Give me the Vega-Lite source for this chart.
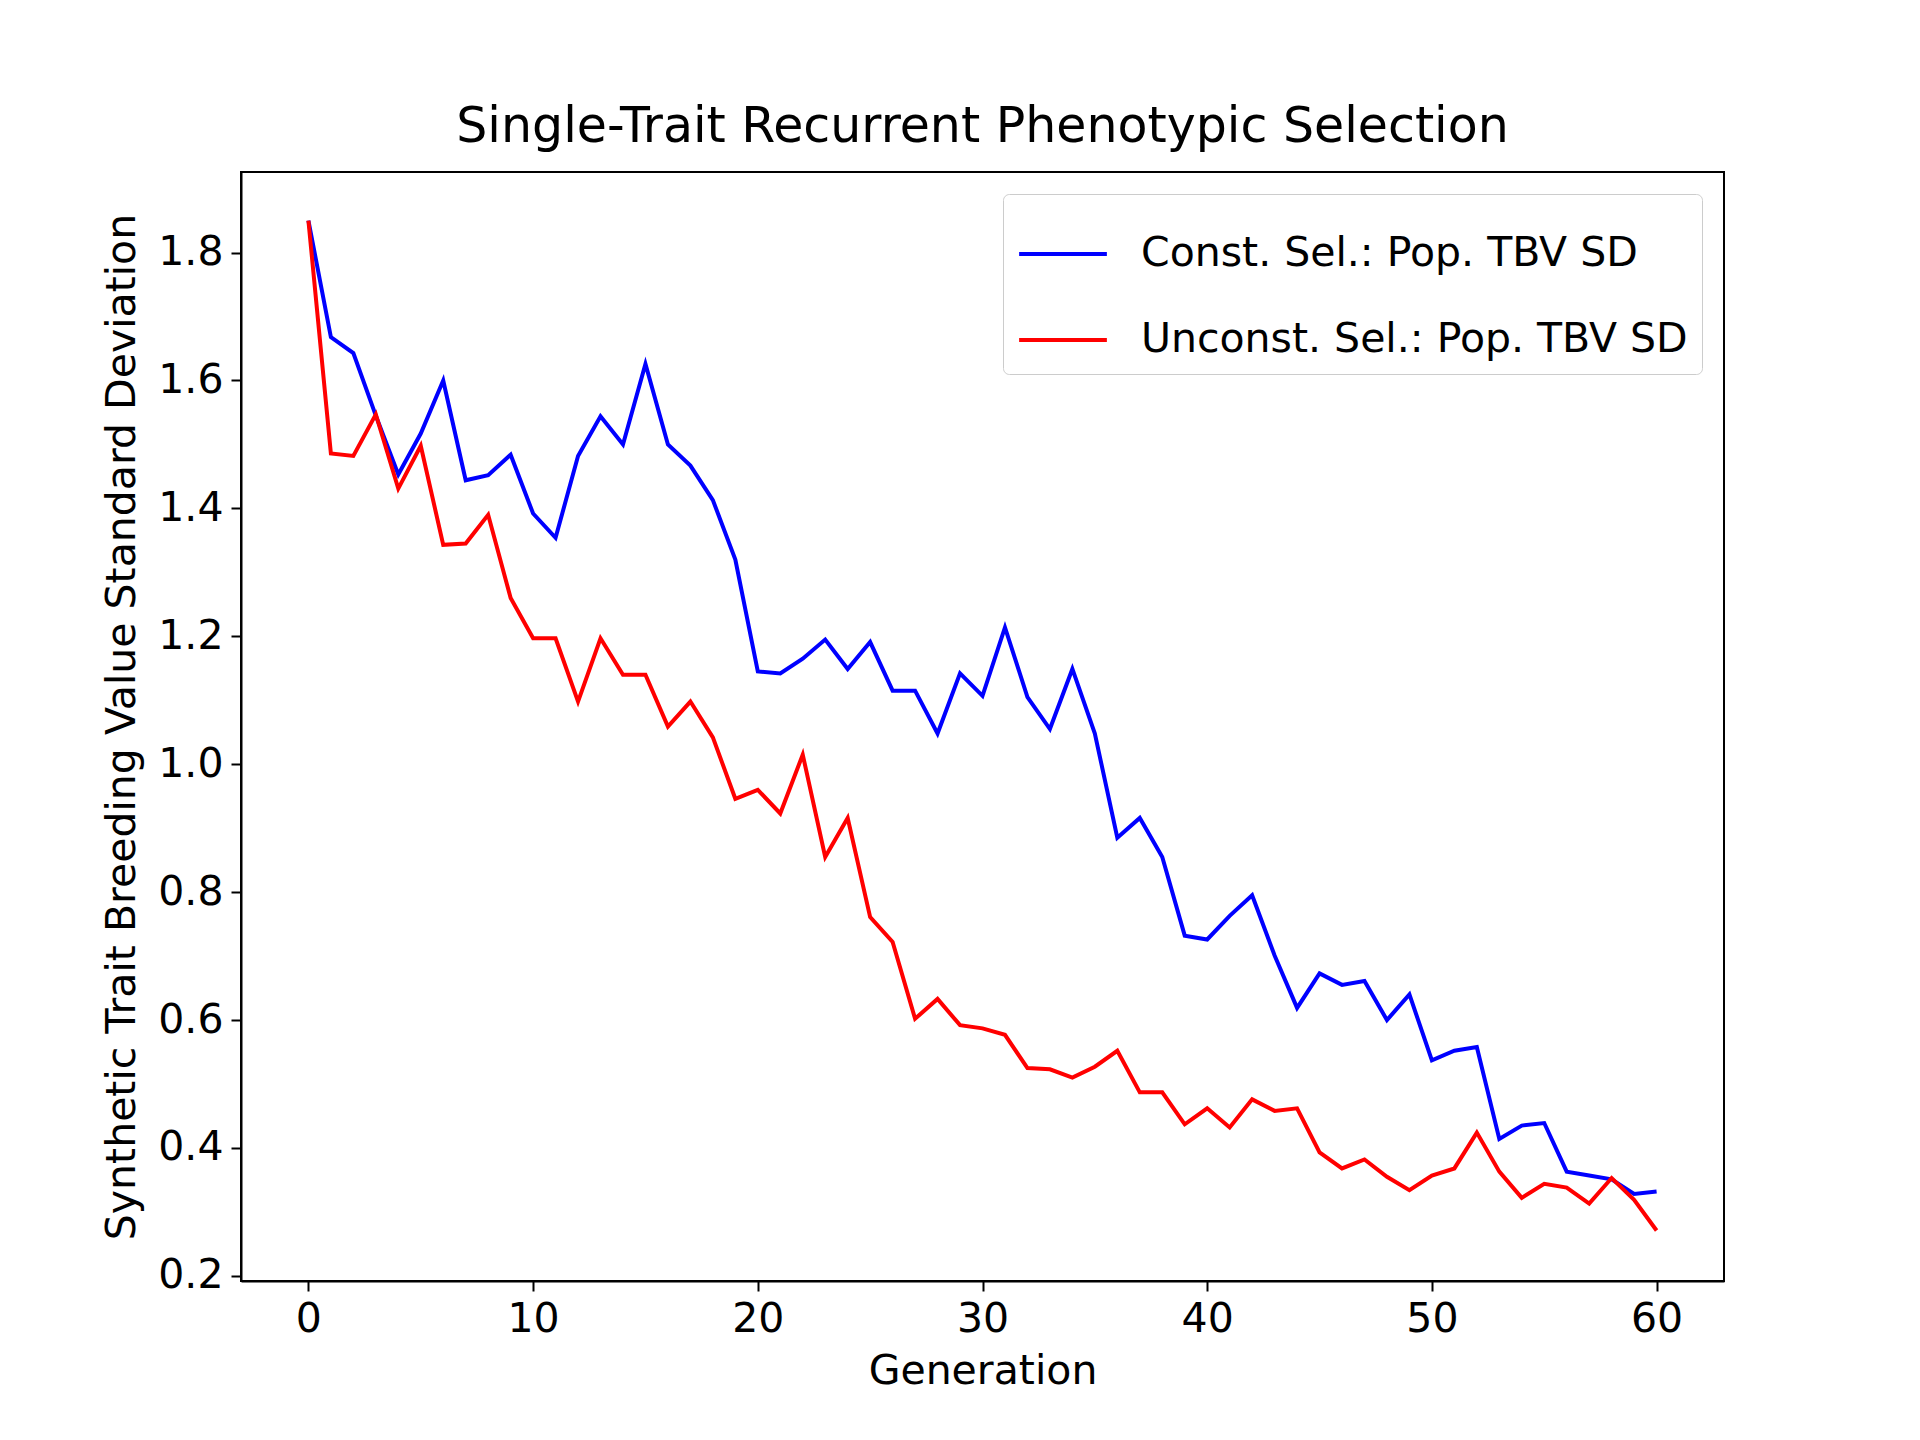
{
  "$schema": "https://vega.github.io/schema/vega-lite/v6.json",
  "width": 1483,
  "height": 1109,
  "autosize": {"type": "none"},
  "padding": {"left": 241, "top": 172, "right": 196, "bottom": 159},
  "background": "white",
  "title": {"text": "Single-Trait Recurrent Phenotypic Selection", "font": "DejaVu Sans", "fontSize": 49, "fontWeight": "normal", "color": "black", "offset": 20},
  "data": {
    "values": [
      {"g": 0, "c": 1.85, "u": 1.85},
      {"g": 1, "c": 1.668, "u": 1.486},
      {"g": 2, "c": 1.643, "u": 1.482},
      {"g": 3, "c": 1.545, "u": 1.547},
      {"g": 4, "c": 1.453, "u": 1.431},
      {"g": 5, "c": 1.517, "u": 1.498},
      {"g": 6, "c": 1.6, "u": 1.343},
      {"g": 7, "c": 1.444, "u": 1.345},
      {"g": 8, "c": 1.452, "u": 1.39},
      {"g": 9, "c": 1.484, "u": 1.26},
      {"g": 10, "c": 1.392, "u": 1.197},
      {"g": 11, "c": 1.354, "u": 1.197},
      {"g": 12, "c": 1.482, "u": 1.098},
      {"g": 13, "c": 1.544, "u": 1.197},
      {"g": 14, "c": 1.5, "u": 1.14},
      {"g": 15, "c": 1.626, "u": 1.14},
      {"g": 16, "c": 1.5, "u": 1.059},
      {"g": 17, "c": 1.467, "u": 1.098},
      {"g": 18, "c": 1.413, "u": 1.042},
      {"g": 19, "c": 1.32, "u": 0.946},
      {"g": 20, "c": 1.145, "u": 0.96},
      {"g": 21, "c": 1.142, "u": 0.923},
      {"g": 22, "c": 1.165, "u": 1.015},
      {"g": 23, "c": 1.195, "u": 0.855},
      {"g": 24, "c": 1.149, "u": 0.916},
      {"g": 25, "c": 1.191, "u": 0.761},
      {"g": 26, "c": 1.115, "u": 0.722},
      {"g": 27, "c": 1.115, "u": 0.602},
      {"g": 28, "c": 1.048, "u": 0.633},
      {"g": 29, "c": 1.142, "u": 0.592},
      {"g": 30, "c": 1.107, "u": 0.587},
      {"g": 31, "c": 1.214, "u": 0.577},
      {"g": 32, "c": 1.105, "u": 0.525},
      {"g": 33, "c": 1.055, "u": 0.523},
      {"g": 34, "c": 1.149, "u": 0.51},
      {"g": 35, "c": 1.048, "u": 0.527},
      {"g": 36, "c": 0.885, "u": 0.552},
      {"g": 37, "c": 0.916, "u": 0.487},
      {"g": 38, "c": 0.855, "u": 0.487},
      {"g": 39, "c": 0.732, "u": 0.437},
      {"g": 40, "c": 0.726, "u": 0.462},
      {"g": 41, "c": 0.763, "u": 0.432},
      {"g": 42, "c": 0.795, "u": 0.476},
      {"g": 43, "c": 0.701, "u": 0.458},
      {"g": 44, "c": 0.619, "u": 0.462},
      {"g": 45, "c": 0.673, "u": 0.393},
      {"g": 46, "c": 0.655, "u": 0.368},
      {"g": 47, "c": 0.661, "u": 0.382},
      {"g": 48, "c": 0.6, "u": 0.355},
      {"g": 49, "c": 0.64, "u": 0.334},
      {"g": 50, "c": 0.537, "u": 0.357},
      {"g": 51, "c": 0.552, "u": 0.368},
      {"g": 52, "c": 0.558, "u": 0.424},
      {"g": 53, "c": 0.414, "u": 0.363},
      {"g": 54, "c": 0.435, "u": 0.322},
      {"g": 55, "c": 0.439, "u": 0.344},
      {"g": 56, "c": 0.363, "u": 0.338},
      {"g": 57, "c": 0.357, "u": 0.313},
      {"g": 58, "c": 0.351, "u": 0.353},
      {"g": 59, "c": 0.328, "u": 0.319},
      {"g": 60, "c": 0.332, "u": 0.271}
    ]
  },
  "transform": [
    {"fold": ["c", "u"], "as": ["key", "value"]},
    {"calculate": "datum.key == 'c' ? 'Const. Sel.: Pop. TBV SD' : 'Unconst. Sel.: Pop. TBV SD'", "as": "series"}
  ],
  "mark": {"type": "line", "strokeWidth": 4, "clip": true},
  "encoding": {
    "x": {
      "field": "g", "type": "quantitative", "title": "Generation",
      "scale": {"domain": [-3, 63], "nice": false, "zero": false},
      "axis": {"values": [0, 10, 20, 30, 40, 50, 60], "grid": false, "titlePadding": 12}
    },
    "y": {
      "field": "value", "type": "quantitative", "title": "Synthetic Trait Breeding Value Standard Deviation",
      "scale": {"domain": [0.192, 1.926], "nice": false, "zero": false},
      "axis": {"values": [0.2, 0.4, 0.6, 0.8, 1.0, 1.2, 1.4, 1.6, 1.8], "format": ".1f", "grid": false, "titlePadding": 14}
    },
    "color": {
      "field": "series", "type": "nominal",
      "scale": {"domain": ["Const. Sel.: Pop. TBV SD", "Unconst. Sel.: Pop. TBV SD"], "range": ["#0000ff", "#ff0000"]},
      "legend": {
        "title": null, "orient": "top-right", "offset": 22,
        "symbolType": "stroke", "symbolSize": 7700, "symbolStrokeWidth": 4,
        "labelFont": "DejaVu Sans", "labelFontSize": 41, "labelLimit": 1000,
        "rowPadding": 20, "labelOffset": 32,
        "strokeColor": "#cccccc", "fillColor": "white", "cornerRadius": 6, "padding": 14
      }
    }
  },
  "config": {
    "view": {"stroke": "black", "strokeWidth": 2},
    "axis": {
      "labelFont": "DejaVu Sans", "labelFontSize": 41, "labelColor": "black",
      "titleFont": "DejaVu Sans", "titleFontSize": 41, "titleFontWeight": "normal", "titleColor": "black",
      "domainColor": "black", "domainWidth": 2, "tickColor": "black", "tickWidth": 2, "tickSize": 10, "labelPadding": 8
    }
  }
}
